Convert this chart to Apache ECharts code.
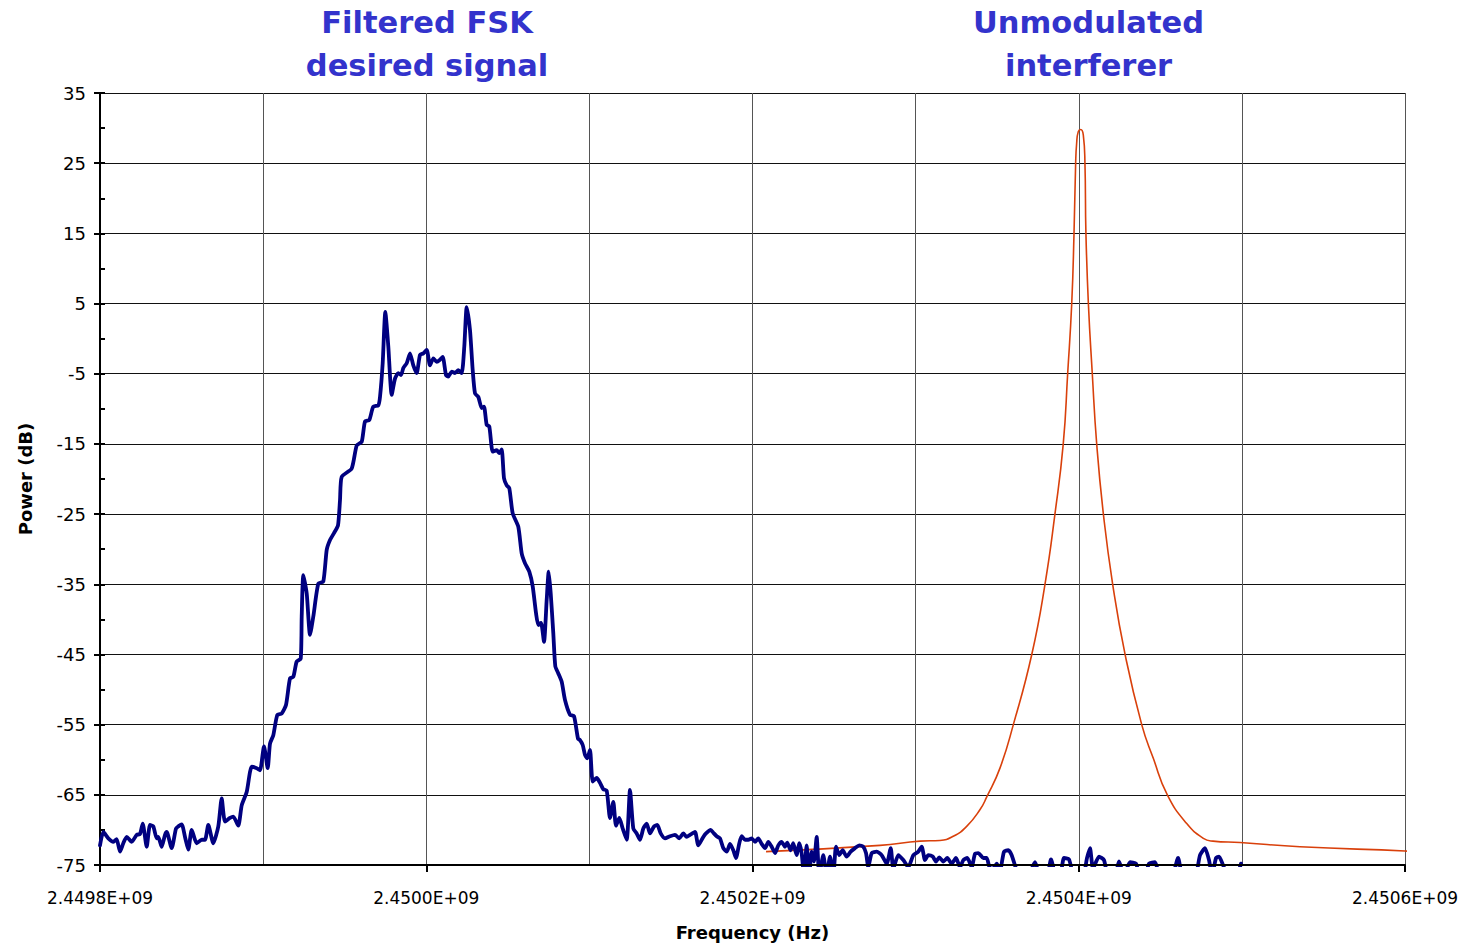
<!DOCTYPE html>
<html>
<head>
<meta charset="utf-8">
<script src="https://cdn.jsdelivr.net/npm/echarts@6/dist/echarts.min.js"></script>
<style>
html,body{margin:0;padding:0;background:#ffffff;}
#chart{width:1458px;height:943px;}
</style>
</head>
<body>
<div id="chart"></div>
<script>
// ---- Axis ranges and tick labels ----
const xMinHz = 2449800000;
const xMaxHz = 2450600000;
const xGridStepHz = 100000;
const xLabelFreqHz = [2449800000, 2450000000, 2450200000, 2450400000, 2450600000];
const xTickLabels = ['2.4498E+09', '2.4500E+09', '2.4502E+09', '2.4504E+09', '2.4506E+09'];
const yMin = -75, yMax = 35, yStep = 10, yMinorStep = 5;

// ---- Filtered FSK desired signal (measured spectrum) ----
const fskFreqHz = [
  2449800000, 2449802020, 2449805090, 2449808150, 2449810180, 2449812260, 2449814280, 2449816370, 2449819430, 2449822500,
  2449824520, 2449826180, 2449828630, 2449830650, 2449832670, 2449834760, 2449835740, 2449837820, 2449839850, 2449840890,
  2449843950, 2449846590, 2449848000, 2449850080, 2449852110, 2449854130, 2449856210, 2449859280, 2449862340, 2449864370,
  2449866390, 2449869460, 2449872520, 2449874600, 2449876630, 2449879690, 2449881720, 2449884780, 2449886870, 2449889930,
  2449893000, 2449896060, 2449898080, 2449900540, 2449902810, 2449904220, 2449906240, 2449908690, 2449911390, 2449914020,
  2449916480, 2449918500, 2449920580, 2449923040, 2449923650, 2449924630, 2449926720, 2449928740, 2449930760, 2449933830,
  2449936890, 2449938980, 2449941000, 2449943450, 2449945900, 2449947130, 2449948170, 2449954300, 2449957370, 2449960430,
  2449962450, 2449965090, 2449967480, 2449970610, 2449971650, 2449973300, 2449974900, 2449976740, 2449978820, 2449980840,
  2449982870, 2449984520, 2449985930, 2449988020, 2449990040, 2449992060, 2449994150, 2449996170, 2449998200, 2450000280,
  2450002300, 2450004330, 2450006410, 2450008430, 2450010090, 2450012110, 2450013520, 2450015600, 2450017630, 2450019650,
  2450021740, 2450023330, 2450024800, 2450026820, 2450028480, 2450029890, 2450031910, 2450033990, 2450035400, 2450037060,
  2450038650, 2450040730, 2450043190, 2450044780, 2450046250, 2450047660, 2450049320, 2450050910, 2450053000, 2450056430,
  2450058510, 2450060540, 2450063170, 2450065260, 2450067280, 2450068690, 2450070350, 2450072190, 2450073840, 2450075070,
  2450076300, 2450077890, 2450079120, 2450080960, 2450083040, 2450085060, 2450088130, 2450090580, 2450093030, 2450094260,
  2450095910, 2450097320, 2450098730, 2450100390, 2450102040, 2450104490, 2450106520, 2450108540, 2450110620, 2450112650,
  2450114670, 2450116320, 2450118350, 2450120430, 2450122880, 2450124900, 2450126930, 2450129010, 2450131040, 2450133060,
  2450135140, 2450137170, 2450139620, 2450141640, 2450143730, 2450146360, 2450149430, 2450152490, 2450155130, 2450157580,
  2450159660, 2450161690, 2450164750, 2450166770, 2450169840, 2450171490, 2450174380, 2450175970, 2450178050, 2450180080,
  2450182100, 2450184190, 2450186210, 2450188230, 2450189890, 2450191910, 2450193380, 2450195400, 2450197430, 2450199510,
  2450201530, 2450203560, 2450205640, 2450207670, 2450209690, 2450211770, 2450213800, 2450215820, 2450217850, 2450219870,
  2450221280, 2450223360, 2450224960, 2450227040, 2450228640, 2450230110, 2450231560, 2450233190, 2450234780, 2450236250,
  2450237700, 2450239340, 2450240940, 2450243390, 2450245470, 2450247510, 2450249530, 2450251190, 2450253210, 2450255250,
  2450257700, 2450260180, 2450262840, 2450265460, 2450267900, 2450269580, 2450270990, 2450273070, 2450276140, 2450279200,
  2450282270, 2450284720, 2450286320, 2450289380, 2450292450, 2450295520, 2450298580, 2450301640, 2450303730, 2450305750,
  2450307770, 2450310470, 2450312490, 2450314510, 2450316960, 2450319420, 2450322110, 2450324750, 2450327210, 2450329230,
  2450331680, 2450334380, 2450336400, 2450338430, 2450341490, 2450343570, 2450345600, 2450347620, 2450349710, 2450351730,
  2450354180, 2450356820, 2450358900, 2450361540, 2450363990, 2450368890, 2450373180, 2450376250, 2450380540, 2450382990,
  2450386060, 2450388510, 2450390960, 2450394030, 2450397090, 2450402610, 2450405060, 2450406900, 2450408740, 2450412420,
  2450415480, 2450417930, 2450422220, 2450424670, 2450427740, 2450431420, 2450435090, 2450437550, 2450440620, 2450443070,
  2450446750, 2450449820, 2450457170, 2450460850, 2450463920, 2450471270, 2450474340, 2450477400, 2450479860, 2450481690,
  2450484150, 2450485980, 2450488440, 2450491500, 2450496410, 2450499470
];
const fskPowerDb = [
  -72.2, -70.3, -71.2, -71.7, -71.3, -73.1, -71.9, -71.0, -71.7, -70.7,
  -70.6, -69.1, -72.4, -69.3, -69.5, -71.2, -71.0, -72.4, -70.7, -70.3,
  -72.6, -69.8, -69.5, -69.2, -71.0, -72.8, -70.0, -71.9, -71.4, -71.4,
  -69.3, -71.9, -69.5, -65.5, -68.8, -68.3, -68.1, -69.4, -66.5, -64.6,
  -61.0, -61.2, -61.5, -58.1, -61.2, -57.7, -56.5, -53.6, -53.4, -52.2,
  -48.4, -48.2, -46.0, -45.6, -39.6, -33.7, -36.3, -42.2, -39.6, -34.9,
  -34.6, -30.1, -28.7, -27.7, -26.6, -23.0, -19.7, -18.5, -15.2, -14.7,
  -11.8, -11.6, -9.7, -9.5, -8.3, -3.5, 3.8, -1.1, -8.0, -5.7,
  -4.9, -5.2, -4.2, -3.5, -2.1, -3.8, -4.9, -2.3, -2.1, -1.6,
  -3.8, -2.8, -3.3, -3.0, -2.6, -5.2, -5.4, -4.7, -4.9, -4.5,
  -4.9, -1.1, 4.5, 1.2, -4.5, -7.8, -8.3, -9.9, -9.7, -12.3,
  -12.5, -16.1, -15.9, -16.3, -15.8, -19.9, -20.9, -21.3, -24.9, -26.8,
  -30.6, -32.0, -33.2, -35.3, -39.1, -40.8, -40.5, -43.2, -37.2, -33.2,
  -36.3, -42.0, -46.7, -47.7, -48.9, -51.5, -53.6, -53.8, -57.0, -57.2,
  -57.9, -59.3, -59.8, -58.6, -63.1, -62.6, -63.3, -64.2, -64.4, -68.3,
  -66.0, -69.4, -68.3, -69.8, -71.4, -64.3, -69.8, -70.5, -71.4, -69.8,
  -69.1, -70.5, -69.5, -69.3, -70.5, -71.2, -70.9, -70.7, -71.2, -70.5,
  -71.0, -70.7, -70.3, -72.2, -71.0, -70.5, -70.0, -70.4, -70.9, -71.2,
  -72.6, -73.1, -72.0, -72.9, -74.0, -71.9, -70.9, -71.4, -71.4, -71.2,
  -71.7, -71.2, -72.0, -72.6, -71.7, -72.4, -73.3, -72.2, -71.7, -72.4,
  -71.8, -72.9, -71.9, -73.6, -71.9, -73.3, -76.5, -72.2, -76.5, -73.1,
  -74.5, -71.0, -76.5, -73.6, -76.5, -73.8, -76.5, -72.4, -73.6, -72.9,
  -73.8, -73.1, -72.6, -72.2, -72.4, -73.3, -75.3, -73.3, -73.1, -73.6,
  -74.8, -72.6, -75.5, -73.6, -74.3, -75.3, -73.6, -73.1, -72.4, -74.3,
  -73.6, -73.8, -74.5, -73.9, -74.5, -74.0, -74.8, -74.0, -75.3, -74.3,
  -74.0, -75.3, -73.4, -73.3, -74.0, -74.0, -75.5, -75.5, -74.8, -75.8,
  -73.1, -72.9, -73.6, -75.5, -76.5, -76.5, -74.6, -76.5, -76.5, -74.2,
  -76.5, -76.5, -74.0, -74.2, -76.5, -76.5, -74.0, -72.6, -75.5, -73.8,
  -74.3, -76.5, -76.5, -74.5, -76.5, -74.6, -74.8, -76.5, -76.5, -74.8,
  -74.6, -76.5, -76.5, -74.0, -76.5, -76.5, -73.6, -72.6, -74.3, -76.5,
  -74.0, -73.8, -75.0, -76.5, -76.5, -74.8
];

// ---- Unmodulated interferer ----
const toneFreqHz = [
  2450208300, 2450278200, 2450302700, 2450314900, 2450323100, 2450331300, 2450339500, 2450343600, 2450351700, 2450359900,
  2450371200, 2450379300, 2450385400, 2450390500, 2450393200, 2450395700, 2450397100, 2450398100, 2450398700, 2450399700,
  2450401200, 2450402800, 2450403800, 2450404400, 2450405900, 2450408300, 2450411000, 2450415100, 2450420800, 2450428400,
  2450438600, 2450445700, 2450454300, 2450466200, 2450476400, 2450482300, 2450498900, 2450535600, 2450600000, 2450604300
];
const tonePowerDb = [
  -73.1, -72.2, -71.6, -71.5, -70.9, -69.5, -67.1, -65.3, -61.2, -55.0,
  -45.0, -35.0, -25.0, -15.0, -5.0, 5.0, 15.0, 25.0, 27.8, 29.5,
  29.8, 29.0, 25.0, 15.0, 5.0, -5.0, -15.0, -25.0, -35.0, -45.0,
  -55.0, -59.8, -65.0, -69.1, -71.2, -71.6, -71.8, -72.4, -73.0, -73.1
];

// ---- Annotations ----
const annotationTexts = ['Filtered FSK\ndesired signal', 'Unmodulated\ninterferer'];
const annotationFreqHz = [2450000500, 2450406000];

const fskData = fskFreqHz.map((f, i) => [f, fskPowerDb[i]]);
const toneData = toneFreqHz.map((f, i) => [f, tonePowerDb[i]]);

const chart = echarts.init(document.getElementById('chart'), null, {renderer: 'svg'});
const FONT = 'DejaVu Sans';
const gridLeft = 100, gridRight = 53;
const plotW = 1458 - gridLeft - gridRight;
const annX = annotationFreqHz.map(f => gridLeft + (f - xMinHz) / (xMaxHz - xMinHz) * plotW);

const option = {
  backgroundColor: '#ffffff',
  animation: false,
  grid: {left: gridLeft, right: gridRight, top: 93, bottom: 78, containLabel: false, outerBoundsMode: 'none'},
  graphic: annotationTexts.map((t, i) => ({
    type: 'text', x: annX[i], y: 44,
    style: {
      text: t, align: 'center', verticalAlign: 'middle',
      fontFamily: FONT, fontWeight: 'bold', fontSize: 30.5, lineHeight: 43, fill: '#3333CC'
    }
  })),
  xAxis: [
    {
      type: 'value', min: xMinHz, max: xMaxHz, interval: xGridStepHz,
      name: 'Frequency (Hz)', nameLocation: 'middle', nameGap: 58,
      nameTextStyle: {fontFamily: FONT, fontWeight: 'bold', fontSize: 18, color: '#000'},
      axisLine: {show: true, onZero: false, lineStyle: {color: '#000', width: 2}},
      axisTick: {show: true, customValues: xLabelFreqHz, length: 7, lineStyle: {color: '#000', width: 2}},
      axisLabel: {
        customValues: xLabelFreqHz, margin: 24, fontFamily: FONT, fontSize: 17, color: '#000',
        formatter: v => { const i = xLabelFreqHz.indexOf(Math.round(v)); return i >= 0 ? xTickLabels[i] : ''; }
      },
      splitLine: {show: false},
      z: 5
    },
    {
      type: 'value', min: xMinHz, max: xMaxHz, interval: xGridStepHz, position: 'bottom',
      axisLine: {show: false}, axisTick: {show: false}, axisLabel: {show: false},
      splitLine: {show: true, lineStyle: {color: '#555', width: 1}}
    }
  ],
  yAxis: [
    {
      type: 'value', min: yMin, max: yMax, interval: yStep,
      name: 'Power (dB)', nameLocation: 'middle', nameGap: 66, nameRotate: 90,
      nameTextStyle: {fontFamily: FONT, fontWeight: 'bold', fontSize: 18, color: '#000'},
      axisLine: {show: true, onZero: false, lineStyle: {color: '#000', width: 2}},
      axisTick: {show: true, length: 6, lineStyle: {color: '#000', width: 2}},
      axisLabel: {margin: 14, fontFamily: FONT, fontSize: 18, color: '#000'},
      splitLine: {show: true, lineStyle: {color: '#111', width: 1}}
    },
    {
      type: 'value', min: yMin, max: yMax, interval: yMinorStep, position: 'left',
      axisLine: {show: false},
      axisTick: {show: true, inside: true, length: 5, lineStyle: {color: '#000', width: 2}},
      axisLabel: {show: false},
      splitLine: {show: false}
    }
  ],
  series: [
    {
      name: 'Unmodulated interferer', type: 'line', data: toneData, xAxisIndex: 0, yAxisIndex: 0,
      showSymbol: false, smooth: 0.5, clip: false, z: 3,
      lineStyle: {color: '#D9400B', width: 1.6}
    },
    {
      name: 'Filtered FSK desired signal', type: 'line', data: fskData, xAxisIndex: 0, yAxisIndex: 0,
      showSymbol: false, smooth: 0.2, clip: true, z: 4,
      lineStyle: {color: '#000080', width: 3.8, join: 'round', cap: 'round'}
    }
  ]
};
chart.setOption(option);
</script>
</body>
</html>
